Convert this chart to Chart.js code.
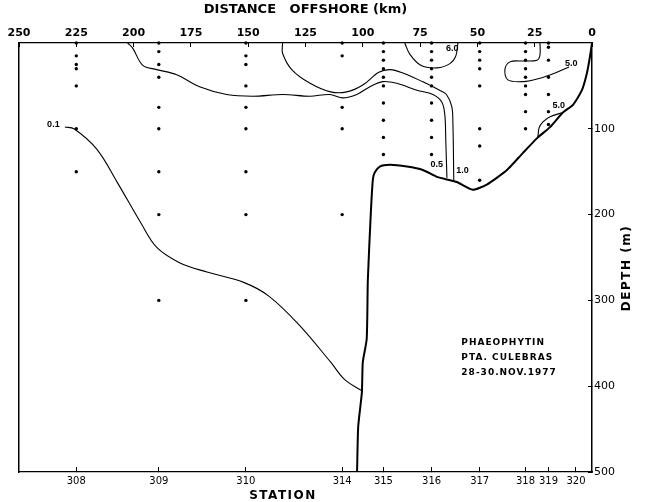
<!DOCTYPE html>
<html>
<head>
<meta charset="utf-8">
<title>Phaeophytin - Pta. Culebras</title>
<script src="https://cdn.jsdelivr.net/npm/chart.js@4.4.1/dist/chart.umd.min.js"></script>
<style>
  html, body { margin: 0; padding: 0; background: #fff; }
  #wrap { width: 648px; height: 502px; position: relative; }
</style>
</head>
<body>
<div id="wrap"><canvas id="section"></canvas></div>
<script>
// Stations along the section (distance offshore in km).
var stationNames = ['308', '309', '310', '314', '315', '316', '317', '318', '319', '320'];
var stationKm = [225, 189, 151, 109, 91, 70, 49, 29, 19, 7];

// Sampling depths (m) for each station.
var sampleDepths = [
  [0, 15, 25, 30, 50, 100, 150],
  [0, 10, 25, 40, 75, 100, 150, 200, 300],
  [0, 15, 25, 50, 75, 100, 150, 200, 300],
  [0, 15, 75, 100, 200],
  [0, 10, 20, 30, 40, 50, 70, 90, 110, 130],
  [0, 10, 20, 30, 40, 50, 70, 90, 110, 130],
  [0, 10, 20, 30, 50, 100, 120, 160],
  [0, 10, 20, 30, 40, 50, 60, 80, 100],
  [0, 5, 20, 40, 60, 80, 95],
  []
];

var distanceTicks = [250, 225, 200, 175, 150, 125, 100, 75, 50, 25, 0];
var depthTicks = [100, 200, 300, 400, 500];

// Sea floor profile, [km, depth].
var seabed = [[102.5, 500], [102, 447], [100.4, 407], [100, 372], [98.3, 345], [97.8, 276],
  [96.5, 198], [95.6, 159], [94.8, 151], [92.6, 144], [88.2, 142], [80.8, 144], [73.8, 148],
  [67.7, 156], [63.3, 159], [59, 162], [52, 171], [45.9, 165], [37.1, 148], [30.1, 128],
  [23.6, 110], [18.3, 98], [12.7, 81], [8.3, 72], [4.4, 55], [2.2, 35], [0.9, 16], [0, 0]];

// Phaeophytin isolines, [km, depth].
var contour01 = [[230, 98], [226, 100], [216, 124], [207, 163], [197, 209], [190, 238], [180, 256],
  [168, 267], [152, 279], [141, 295], [128, 328], [114, 372], [108, 392], [100, 406]];
var contour05 = [[202.6, 0], [200.4, 6], [196, 26], [189.9, 31], [181.2, 37], [171.2, 51], [159.4, 60],
  [148, 62], [134.9, 60], [123.1, 62], [114.4, 60], [108.7, 64], [102.6, 60], [96.9, 51], [91.3, 45],
  [85.2, 47], [76.4, 55], [69.4, 60], [65.5, 69], [64.2, 84], [63.8, 113], [63.3, 157]];
var contour10 = [[135, 0], [135, 12], [131, 31], [123, 47], [114, 57], [107, 57], [100, 49], [93, 34],
  [88, 31], [82.5, 35], [74, 45], [66.5, 55], [63.5, 60], [61.2, 74], [60.7, 92], [60.3, 162]];
var contour50a = [[81.7, 0], [79.5, 13], [74.7, 26], [67.7, 29], [62, 24], [59.4, 15], [58.5, 0]];
var contour50b = [[22.7, 0], [22.7, 14], [24, 20], [30, 21], [35.8, 22], [38, 31], [36.7, 43], [30, 45],
  [22.7, 41], [15.3, 34], [10, 28]];
var contour50c = [[23.6, 110], [23.1, 99], [21.4, 92], [18.3, 86], [12.7, 81]];

// Isoline labels, [text, km, depth].
var contourLabels = [['0.1', 235, 95], ['0.5', 67.7, 142], ['1.0', 56.5, 149], ['6.0', 61, 6],
  ['5.0', 9, 24], ['5.0', 14.5, 73]];

var noteLines = ['PHAEOPHYTIN', 'PTA. CULEBRAS', '28-30.NOV.1977'];

(function () {
  var toXY = function (pairs) {
    return pairs.map(function (p) { return {x: p[0], y: p[1]}; });
  };

  var samples = [];
  stationKm.forEach(function (km, i) {
    sampleDepths[i].forEach(function (d) {
      samples.push({x: km, y: d});
    });
  });

  var isoline = function (pairs) {
    return {
      data: toXY(pairs),
      showLine: true,
      borderColor: '#000',
      borderWidth: 1.1,
      pointRadius: 0,
      tension: 0.35
    };
  };

  var seabedSet = isoline(seabed);
  seabedSet.borderWidth = 2;
  seabedSet.tension = 0.2;

  var black = '#000';
  var tickFont = {family: 'DejaVu Sans', size: 11};

  new Chart(document.getElementById('section'), {
    type: 'scatter',
    data: {
      datasets: [
        seabedSet,
        isoline(contour01),
        isoline(contour05),
        isoline(contour10),
        isoline(contour50a),
        isoline(contour50b),
        isoline(contour50c),
        {
          data: samples,
          pointRadius: 1.7,
          pointBackgroundColor: black,
          pointBorderWidth: 0,
          clip: false
        }
      ]
    },
    options: {
      responsive: true,
      maintainAspectRatio: false,
      animation: false,
      layout: { padding: { left: 19 } },
      plugins: {
        legend: { display: false },
        tooltip: { enabled: false }
      },
      scales: {
        x: {
          type: 'linear', position: 'top', reverse: true, min: 0, max: 250,
          afterBuildTicks: function (scale) {
            scale.ticks = distanceTicks.map(function (v) { return {value: v}; });
          },
          ticks: { padding: 7, color: black, autoSkip: false, maxRotation: 0,
            font: {family: 'DejaVu Sans', size: 11, weight: 'bold'} },
          grid: { drawOnChartArea: false, tickLength: -4, color: black },
          border: { display: true, color: black, width: 1.2 },
          title: { display: true, text: 'DISTANCE   OFFSHORE (km)', color: black,
            font: {family: 'DejaVu Sans', size: 13, weight: 'bold'}, padding: {top: 2, bottom: 0} },
          afterFit: function (scale) { scale.height = 43; }
        },
        x2: {
          type: 'linear', position: 'bottom', reverse: true, min: 0, max: 250,
          afterBuildTicks: function (scale) {
            scale.ticks = stationKm.map(function (v) { return {value: v}; });
          },
          ticks: { padding: 8, color: black, autoSkip: false, maxRotation: 0,
            font: {family: 'DejaVu Sans', size: 10},
            callback: function (value, index) { return stationNames[index]; } },
          grid: { drawOnChartArea: false, tickLength: -5, color: black },
          border: { display: true, color: black, width: 1.2, dash: [14, 4] },
          afterFit: function (scale) { scale.height = 30; }
        },
        y: {
          type: 'linear', position: 'right', reverse: true, min: 0, max: 500,
          afterBuildTicks: function (scale) {
            scale.ticks = depthTicks.map(function (v) { return {value: v}; });
          },
          ticks: { padding: 6, color: black, font: tickFont },
          grid: { drawOnChartArea: false, tickLength: -4, color: black },
          border: { display: true, color: black, width: 1.5 },
          afterFit: function (scale) { scale.width = 56; }
        },
        yl: {
          type: 'linear', position: 'left',
          ticks: { display: false },
          grid: { drawOnChartArea: false, drawTicks: false },
          border: { display: true, color: black, width: 1.5 },
          afterFit: function (scale) { scale.width = 0; }
        }
      }
    },
    plugins: [
      {
        id: 'sectionText',
        afterDraw: function (chart) {
          var ctx = chart.ctx;
          var xs = chart.scales.x;
          var ys = chart.scales.y;

          ctx.save();
          ctx.fillStyle = black;
          ctx.textAlign = 'center';
          ctx.textBaseline = 'middle';

          // Isoline values.
          ctx.font = 'bold 9px "Liberation Sans"';
          contourLabels.forEach(function (l) {
            ctx.fillText(l[0], xs.getPixelForValue(l[1]), ys.getPixelForValue(l[2]));
          });

          // Axis names that sit off-centre or read upwards.
          ctx.font = 'bold 12px "DejaVu Sans"';
          ctx.letterSpacing = '1.5px';
          ctx.fillText('STATION', 283, 496);
          ctx.save();
          ctx.translate(627, 268);
          ctx.rotate(-Math.PI / 2);
          ctx.fillText('DEPTH (m)', 0, 0);
          ctx.restore();

          // Cruise note.
          ctx.font = 'bold 9px "DejaVu Sans"';
          ctx.letterSpacing = '1px';
          ctx.textAlign = 'left';
          var nx = xs.getPixelForValue(57);
          var ny = ys.getPixelForValue(349);
          noteLines.forEach(function (t, i) {
            ctx.fillText(t, nx, ny + i * 15);
          });
          ctx.restore();
        }
      }
    ]
  });
}());
</script>
</body>
</html>
